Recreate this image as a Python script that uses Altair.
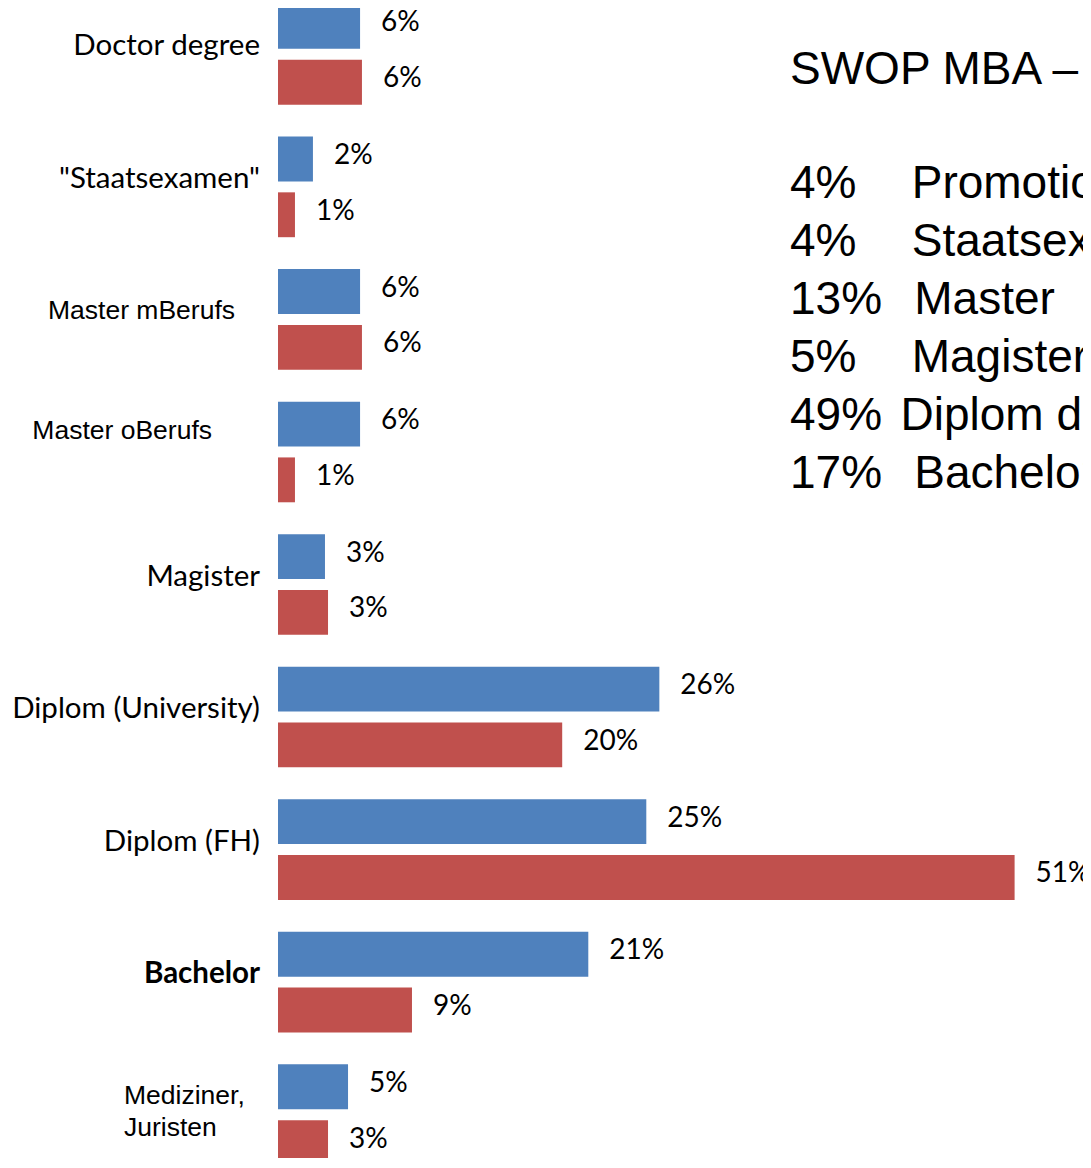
import altair as alt
import pandas as pd

# ---- data ----
categories = ["Doctor degree", "\"Staatsexamen\"", "Master mBerufs", "Master oBerufs", "Magister",
              "Diplom (University)", "Diplom (FH)", "Bachelor", "Mediziner, Juristen"]
series_names = ["Series 1", "Series 2"]
blue_values = [5.66, 2.41, 5.66, 5.66, 3.24, 26.3, 25.4, 21.4, 4.83]
red_values = [5.79, 1.17, 5.79, 1.17, 3.45, 19.6, 50.8, 9.24, 3.45]
blue_labels = ["6%", "2%", "6%", "6%", "3%", "26%", "25%", "21%", "5%"]
red_labels = ["6%", "1%", "6%", "1%", "3%", "20%", "51%", "9%", "3%"]
label_style = ["calibri", "calibri", "arial_m", "arial_o", "calibri",
               "calibri", "calibri", "bold", "arial_med"]

summary_title = "SWOP MBA \u2013"
summary_lines = [
    "4%\u2002\u2002\u2009Promotion",
    "4%\u2002\u2002\u2009Staatsexamen",
    "13%\u2002\u2009Master",
    "5%\u2002\u2002\u2009Magister",
    "49%\u2009\u2009Diplom da",
    "17%\u2002\u2009Bachelor",
]

colors = ["#4F81BD", "#C0504D"]

rows = []
for c, bv, rv, bl, rl in zip(categories, blue_values, red_values, blue_labels, red_labels):
    rows.append({"category": c, "series": series_names[0], "value": bv, "label": bl})
    rows.append({"category": c, "series": series_names[1], "value": rv, "label": rl})
df = pd.DataFrame(rows)
cat_df = pd.DataFrame({"category": categories, "style": label_style})

y_enc = alt.Y("category:N", sort=categories,
              scale=alt.Scale(domain=categories, range=[-4, 1157], paddingInner=0.2406, paddingOuter=0),
              axis=None)
x_enc = alt.X("value:Q", scale=alt.Scale(domain=[0, 53], nice=False, zero=True), axis=None)
yoff_enc = alt.YOffset("series:N", sort=series_names,
                       scale=alt.Scale(domain=series_names, paddingInner=0.196, paddingOuter=0))

base = alt.Chart(df).encode(y=y_enc, x=x_enc, yOffset=yoff_enc)

bars = base.mark_bar().encode(
    color=alt.Color("series:N", scale=alt.Scale(domain=series_names, range=colors), legend=None)
)

pct = base.mark_text(align="left", baseline="alphabetic", dx=21, dy=5,
                     font="Lato", fontSize=28, color="black").encode(text="label:N")

cat_base = alt.Chart(cat_df).encode(y=y_enc, text="category:N")

lab_cal = cat_base.transform_filter(alt.datum.style == "calibri").mark_text(
    align="right", baseline="alphabetic", dy=1, font="Lato", fontSize=29.5, color="black"
).encode(x=alt.value(-18))
lab_bold = cat_base.transform_filter(alt.datum.style == "bold").mark_text(
    align="right", baseline="alphabetic", dy=1, font="Lato", fontSize=29.5, fontWeight="bold", color="black"
).encode(x=alt.value(-18))
lab_m = cat_base.transform_filter(alt.datum.style == "arial_m").mark_text(
    align="right", baseline="alphabetic", dy=0, font="Liberation Sans", fontSize=26.5, color="black"
).encode(x=alt.value(-43))
lab_o = cat_base.transform_filter(alt.datum.style == "arial_o").mark_text(
    align="right", baseline="alphabetic", dy=-13, font="Liberation Sans", fontSize=26.5, color="black"
).encode(x=alt.value(-66))
lab_med = cat_base.transform_filter(alt.datum.style == "arial_med").mark_text(
    align="left", baseline="alphabetic", dy=-11, font="Liberation Sans", fontSize=26.5,
    lineBreak=" ", lineHeight=32, color="black"
).encode(x=alt.value(-154))

summary_t = alt.Chart(pd.DataFrame({"k": [0]})).mark_text(
    text=summary_title, align="left", baseline="alphabetic", font="Liberation Sans",
    fontSize=46, color="black"
).encode(x=alt.value(512), y=alt.value(76))

summary = alt.Chart(pd.DataFrame({"k": [0]})).mark_text(
    text=summary_lines, align="left", baseline="alphabetic", font="Liberation Sans",
    fontSize=46, lineHeight=58, color="black"
).encode(x=alt.value(512), y=alt.value(190))

chart = alt.layer(bars, pct, lab_cal, lab_bold, lab_m, lab_o, lab_med, summary_t, summary).properties(
    width=768.5, height=1150,
    padding={"left": 270, "top": 0, "right": 36.5, "bottom": 0},
    autosize=alt.AutoSizeParams(type="none"),
).configure_view(stroke=None)

chart.save("out.html", embed_options={"renderer": "svg", "actions": False})
